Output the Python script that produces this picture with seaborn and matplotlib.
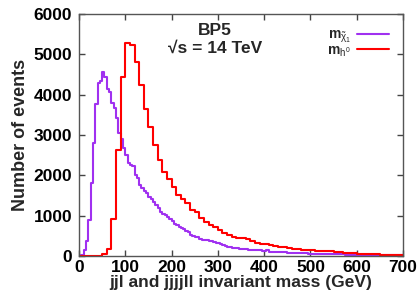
import numpy as np
import pandas as pd
import matplotlib
matplotlib.use("Agg")
import matplotlib.pyplot as plt
import seaborn as sns

# Purple histogram (chargino/neutralino mass), 5 GeV bins starting at 0
purple_counts = [0, 30, 150, 360, 900, 1800, 2800, 3780, 4290, 4340,
                 4570, 4450, 4130, 4060, 3800, 3670, 3430, 3050, 2900, 2670,
                 2500, 2310, 2260, 2220, 2010, 1930, 1770, 1680, 1620, 1560,
                 1470, 1420, 1340, 1260, 1180, 1100, 1030, 1010, 970, 920,
                 880, 800, 770, 730, 700, 680, 630, 600, 530, 500,
                 470, 460, 420, 400, 390, 385, 370, 370, 340, 320,
                 310, 290, 270, 250, 235, 215, 205, 200, 190, 180,
                 175, 170, 165, 155, 150, 148, 145, 142, 140, 120,
                 135, 140, 110, 108, 105, 105, 100, 95, 90, 88,
                 85, 80, 75, 72, 70, 68, 66, 64, 62, 60,
                 58, 57, 55, 53, 52, 51, 50, 49, 48, 47,
                 45, 43, 42, 40, 38, 37, 36, 35, 34, 33,
                 32, 31, 30, 29, 27, 26, 25, 24, 23, 22,
                 21, 20, 19, 18, 17, 16, 15, 15, 14, 13]

# Red histogram (h0 mass), 10 GeV bins starting at 0
red_counts = [0, 0, 0, 0, 0, 60, 165, 925, 2640, 4450,
              5270, 5230, 4820, 4240, 3640, 3210, 2750, 2380, 2090, 1900,
              1720, 1510, 1405, 1320, 1140, 1100, 940, 850, 780, 727,
              645, 562, 520, 480, 445, 440, 430, 372, 330, 298,
              290, 273, 260, 231, 220, 190, 185, 165, 160, 150,
              140, 135, 128, 120, 112, 95, 88, 82, 78, 72,
              60, 55, 50, 46, 42, 32, 28, 25, 22, 18]

x_ticks = [0, 100, 200, 300, 400, 500, 600, 700]
y_ticks = [0, 1000, 2000, 3000, 4000, 5000, 6000]

purple_edges = [5 * i for i in range(len(purple_counts) + 1)]
red_edges = [10 * i for i in range(len(red_counts) + 1)]

df_p = pd.DataFrame({"mass": [e + 2.5 for e in purple_edges[:-1]],
                     "count": purple_counts})
df_r = pd.DataFrame({"mass": [e + 5 for e in red_edges[:-1]],
                     "count": red_counts})

sns.set_style("ticks")
plt.rcParams["font.family"] = ["Liberation Sans", "DejaVu Sans"]
plt.rcParams["mathtext.fontset"] = "custom"
plt.rcParams["mathtext.rm"] = "Liberation Sans"
plt.rcParams["mathtext.it"] = "Liberation Sans"
plt.rcParams["mathtext.bf"] = "Liberation Sans:bold"

fig = plt.figure(figsize=(4.2, 2.94), dpi=100)
ax = fig.add_axes([79 / 420, 1 - 256 / 294, (403 - 79) / 420, (256 - 14) / 294])

purple = "#a030f0"
red = "#ff0000"

sns.histplot(data=df_p, x="mass", weights="count", bins=purple_edges,
             element="step", fill=False, color=purple, linewidth=1.5, ax=ax,
             label=r"$\mathbf{m}_{\tilde{\chi}_1}$")
sns.histplot(data=df_r, x="mass", weights="count", bins=red_edges,
             element="step", fill=False, color=red, linewidth=1.5, ax=ax,
             label=r"$\mathbf{m}_{h^0}$")

ax.set_xlim(0, 700)
ax.set_ylim(0, 6000)
ax.set_xticks(x_ticks)
ax.set_yticks(y_ticks)
ax.set_xticklabels([str(t) for t in x_ticks], fontweight="bold", fontsize=12.5)
ax.set_yticklabels([str(t) for t in y_ticks], fontweight="bold", fontsize=12.5)
ax.tick_params(direction="in", length=4, width=1, top=True, right=True,
               colors="#444444", labelcolor="black")
ax.tick_params(axis="y", pad=5)
ax.tick_params(axis="x", pad=3)
for s in ax.spines.values():
    s.set_visible(True)
    s.set_color("#555555")
    s.set_linewidth(1.0)

ax.set_xlabel("jjl and jjjjll invariant mass (GeV)", fontweight="bold",
              fontsize=12.5, labelpad=0)
ax.set_ylabel("Number of events", fontweight="bold", fontsize=13, labelpad=3)

ax.text(0.42, 0.93, "BP5", transform=ax.transAxes, ha="center", va="center",
        fontweight="bold", fontsize=12.5)
ax.text(0.42, 0.86, "√s = 14 TeV", transform=ax.transAxes, ha="center",
        va="center", fontweight="bold", fontsize=12.5)

leg = ax.legend(loc="upper right", frameon=False, markerfirst=False,
                fontsize=10, handlelength=2.3, handletextpad=0.4,
                labelspacing=-0.15, borderaxespad=0.6, borderpad=0.4)

fig.savefig("out.png", dpi=100)
